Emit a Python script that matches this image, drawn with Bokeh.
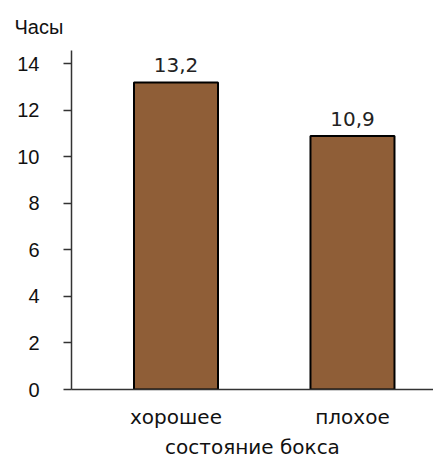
from bokeh.plotting import figure
from bokeh.models import Range1d, FixedTicker, ColumnDataSource
from bokeh.core.properties import value
from bokeh.embed import file_html
from bokeh.resources import INLINE

# Data
categories = ["хорошее", "плохое"]
hours = [13.2, 10.9]
y_ticks = [0, 2, 4, 6, 8, 10, 12, 14]
y_title = "Часы"
x_title = "состояние бокса"

xs = list(range(1, len(categories) + 1))
labels = [f"{v:.1f}".replace(".", ",") for v in hours]
src = ColumnDataSource(dict(x=xs, hours=hours, label=labels))

p = figure(width=433, height=461, output_backend="svg", toolbar_location=None,
           x_range=Range1d(0.408, 2.459), y_range=Range1d(0, 14.57),
           min_border_left=71, min_border_right=0, min_border_top=50,
           min_border_bottom=71, title=y_title)

p.vbar(x="x", top="hours", width=0.476, source=src,
       fill_color="#8F5E37", line_color="black", line_width=2)
p.text(x="x", y="hours", text="label", source=src, y_offset=-10,
       text_align="center", text_baseline="bottom",
       text_font=value("DejaVu Sans"), text_font_size="20px", text_color="#222222")

p.title.align = "left"
p.title.offset = -57
p.title.standoff = 25
p.title.text_font = "Liberation Sans"
p.title.text_font_style = "normal"
p.title.text_font_size = "20px"
p.title.text_color = "#111111"

p.xgrid.grid_line_color = None
p.ygrid.grid_line_color = None
p.outline_line_color = None

xa = p.xaxis[0]
xa.ticker = FixedTicker(ticks=xs)
xa.major_label_overrides = {x: c for x, c in zip(xs, categories)}
xa.major_tick_line_color = None
xa.minor_tick_line_color = None
xa.axis_line_color = "#333333"
xa.axis_line_width = 1.5
xa.major_label_text_font = "DejaVu Sans"
xa.major_label_text_font_size = "20px"
xa.major_label_text_color = "#111111"
xa.major_label_standoff = 9
xa.axis_label = x_title
xa.axis_label_text_font = "DejaVu Sans"
xa.axis_label_text_font_size = "20px"
xa.axis_label_text_font_style = "normal"
xa.axis_label_text_color = "#111111"
xa.axis_label_standoff = 3

ya = p.yaxis[0]
ya.ticker = FixedTicker(ticks=y_ticks)
ya.major_tick_out = 8
ya.major_tick_in = 0
ya.major_tick_line_color = "#333333"
ya.major_tick_line_width = 1.5
ya.minor_tick_line_color = None
ya.axis_line_color = "#333333"
ya.axis_line_width = 1.5
ya.major_label_text_font = "Liberation Sans"
ya.major_label_text_font_size = "20px"
ya.major_label_text_color = "#111111"
ya.major_label_standoff = 24

open("out.html", "w").write(file_html(p, INLINE))
